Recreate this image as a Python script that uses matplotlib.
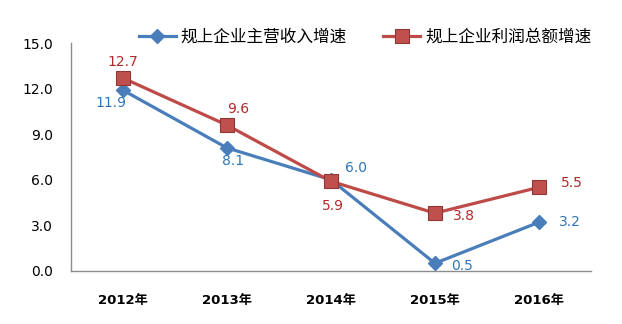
import matplotlib.pyplot as plt

plt.rcParams['font.family'] = ['DejaVu Sans', 'Noto Sans CJK SC']

years = ["2012年", "2013年", "2014年", "2015年", "2016年"]
revenue = [11.9, 8.1, 6.0, 0.5, 3.2]
profit = [12.7, 9.6, 5.9, 3.8, 5.5]
yticks = [0.0, 3.0, 6.0, 9.0, 12.0, 15.0]

BLUE = "#4a7ebb"
BLUE_TXT = "#2e75b6"
RED = "#be4b48"
RED_TXT = "#b22a2a"

# label offsets in pixels (dx, dy up)
rev_off = [(-12, -13), (6, -13), (25, 12), (27, -3), (31, 0)]
pro_off = [(0, 16), (11, 16), (2, -25), (29, -3), (33, 4)]

fig = plt.figure(figsize=(6.22, 3.24), dpi=100)
ax = fig.add_axes([0.114, 0.164, 0.836, 0.703])

x = list(range(len(years)))
ax.plot(x, revenue, color=BLUE, lw=2.3, marker="D", ms=7.5,
        mfc=BLUE, mec=BLUE, label="规上企业主营收入增速", zorder=3)
ax.plot(x, profit, color=RED, lw=2.3, marker="s", ms=9.5,
        mfc="#c0504d", mec="#8c3836", mew=0.8, label="规上企业利润总额增速", zorder=3)

for i, v in enumerate(revenue):
    dx, dy = rev_off[i]
    ax.annotate(f"{v:.1f}", (i, v), xytext=(dx * 0.72, dy * 0.72),
                textcoords="offset points", ha="center", va="center",
                fontsize=10, color=BLUE_TXT)
for i, v in enumerate(profit):
    dx, dy = pro_off[i]
    ax.annotate(f"{v:.1f}", (i, v), xytext=(dx * 0.72, dy * 0.72),
                textcoords="offset points", ha="center", va="center",
                fontsize=10, color=RED_TXT)

ax.set_xlim(-0.5, len(years) - 0.5)
ax.set_ylim(0, 15)
ax.set_yticks(yticks)
ax.set_yticklabels([f"{t:.1f}" for t in yticks], fontsize=10)
ax.set_xticks(x)
ax.set_xticklabels(years, fontsize=9.5, fontweight="bold")
ax.tick_params(axis="y", length=0, pad=13)
ax.tick_params(axis="x", length=0, pad=17)

for s in ["top", "right"]:
    ax.spines[s].set_visible(False)
for s in ["left", "bottom"]:
    ax.spines[s].set_color("#8c8c8c")
    ax.spines[s].set_linewidth(1.0)

fig.legend(loc="center", bbox_to_anchor=(0.587, 0.886), ncol=2, frameon=False,
           handlelength=2.2, columnspacing=2.2, handletextpad=0.3,
           prop={'family': ['Noto Sans CJK SC'], 'size': 12})

fig.savefig("out.png", dpi=100)
